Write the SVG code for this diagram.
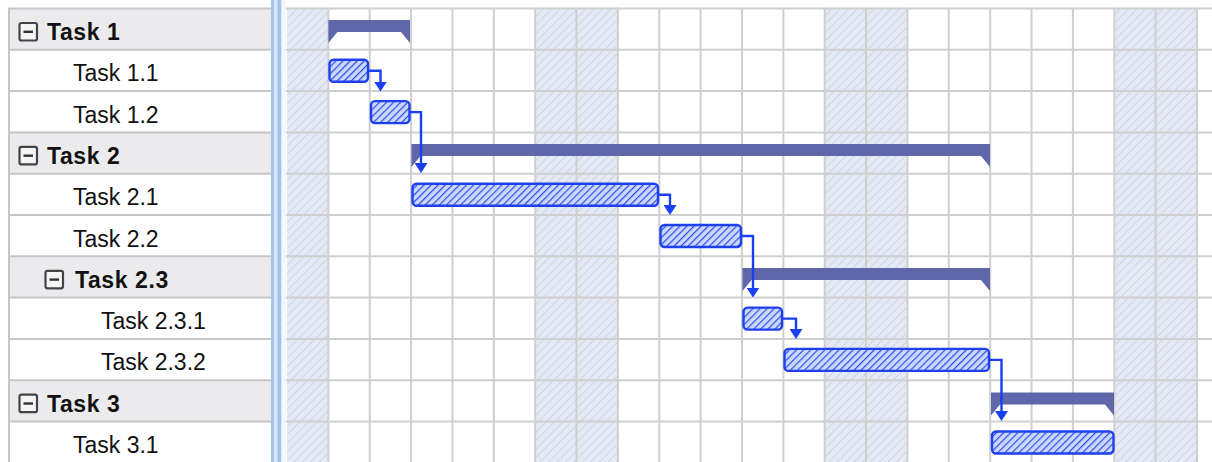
<svg xmlns="http://www.w3.org/2000/svg" width="1212" height="462" viewBox="0 0 1212 462">
  <defs>
    <!-- weekend shading: pale blue with thin diagonal hatch -->
    <pattern id="weekendHatch" patternUnits="userSpaceOnUse" width="6" height="6" patternTransform="rotate(45)">
      <rect width="6" height="6" fill="#e4e9f4"/>
      <line x1="0" y1="0" x2="0" y2="6" stroke="#c6d0e6" stroke-width="1.6"/>
    </pattern>
    <!-- task bar fill: blue diagonal hatch -->
    <pattern id="taskHatch" patternUnits="userSpaceOnUse" width="5" height="5" patternTransform="rotate(45)">
      <rect width="5" height="5" fill="#cdd8ff"/>
      <line x1="0" y1="0" x2="0" y2="5" stroke="#2f50ee" stroke-width="2.5"/>
    </pattern>
    <marker id="arrow" viewBox="0 0 10 10" refX="7" refY="5" markerUnits="userSpaceOnUse" markerWidth="10" markerHeight="13" orient="auto" preserveAspectRatio="none">
      <path d="M0,0 L10,5 L0,10 Z" fill="#1a3ff2"/>
    </marker>
    <style>
      .label { font-family: "Liberation Sans", Arial, sans-serif; font-size: 23px; fill: #111; }
      .summary { font-weight: bold; letter-spacing: 0.6px; }
      .rowline { stroke: #c6c6c6; stroke-width: 2; }
      .grid { stroke: #cfcfcf; stroke-width: 2; fill: none; }
      .sumrow { fill: #ebebee; }
      .toggle rect { fill: #f5f5f5; stroke: #444; stroke-width: 2.2; }
      .toggle line { stroke: #333; stroke-width: 2.4; }
      .sumbar { fill: #5f66a9; }
      .task { fill: url(#taskHatch); stroke: #1f40ee; stroke-width: 2.4; }
      .link { fill: none; stroke: #1a3ff2; stroke-width: 2.4; marker-end: url(#arrow); }
    </style>
  </defs>

  <rect width="1212" height="462" fill="#ffffff"/>

  <!-- ===== task list pane ===== -->
  <g id="task-list">
    <rect class="sumrow" x="9" y="8.5" width="262" height="41.3"/>
    <rect class="sumrow" x="9" y="132.4" width="262" height="41.3"/>
    <rect class="sumrow" x="9" y="256.3" width="262" height="41.3"/>
    <rect class="sumrow" x="9" y="380.2" width="262" height="41.3"/>
    <path class="rowline" d="M9,8.5 H271 M9,49.8 H271 M9,91.1 H271 M9,132.4 H271 M9,173.7 H271 M9,215 H271 M9,256.3 H271 M9,297.6 H271 M9,338.9 H271 M9,380.2 H271 M9,421.5 H271"/>
    <line class="rowline" x1="9" y1="7.5" x2="9" y2="462"/>
  </g>

  <g id="row-task1">
    <g class="toggle"><rect x="19.5" y="23" width="17.5" height="17.5" rx="2"/><line x1="23.5" y1="31.8" x2="33" y2="31.8"/></g>
    <text class="label summary" x="47" y="40">Task 1</text>
  </g>
  <g id="row-task1-1"><text class="label" x="73" y="81.3">Task 1.1</text></g>
  <g id="row-task1-2"><text class="label" x="73" y="122.6">Task 1.2</text></g>
  <g id="row-task2">
    <g class="toggle"><rect x="19.5" y="146.9" width="17.5" height="17.5" rx="2"/><line x1="23.5" y1="155.7" x2="33" y2="155.7"/></g>
    <text class="label summary" x="47" y="163.9">Task 2</text>
  </g>
  <g id="row-task2-1"><text class="label" x="73" y="205.2">Task 2.1</text></g>
  <g id="row-task2-2"><text class="label" x="73" y="246.5">Task 2.2</text></g>
  <g id="row-task2-3">
    <g class="toggle"><rect x="45.5" y="270.8" width="17.5" height="17.5" rx="2"/><line x1="49.5" y1="279.6" x2="59" y2="279.6"/></g>
    <text class="label summary" x="75" y="287.8">Task 2.3</text>
  </g>
  <g id="row-task2-3-1"><text class="label" x="101" y="329.1">Task 2.3.1</text></g>
  <g id="row-task2-3-2"><text class="label" x="101" y="370.4">Task 2.3.2</text></g>
  <g id="row-task3">
    <g class="toggle"><rect x="19.5" y="394.7" width="17.5" height="17.5" rx="2"/><line x1="23.5" y1="403.5" x2="33" y2="403.5"/></g>
    <text class="label summary" x="47" y="411.7">Task 3</text>
  </g>
  <g id="row-task3-1"><text class="label" x="73" y="453">Task 3.1</text></g>

  <!-- ===== splitter ===== -->
  <g id="splitter">
    <rect x="271" y="0" width="11" height="462" fill="#d9e6f8"/>
    <rect x="271" y="0" width="3" height="462" fill="#a7c3ec"/>
    <rect x="277.5" y="0" width="3.5" height="462" fill="#a7c3ec"/>
    <rect x="282" y="0" width="4" height="462" fill="#f4f7fc"/>
  </g>

  <!-- ===== timeline grid ===== -->
  <g id="timeline">
    <rect x="287" y="7.5" width="41.4" height="454.5" fill="url(#weekendHatch)"/>
    <rect x="535.2" y="7.5" width="82.7" height="454.5" fill="url(#weekendHatch)"/>
    <rect x="824.7" y="7.5" width="82.7" height="454.5" fill="url(#weekendHatch)"/>
    <rect x="1114.3" y="7.5" width="82.7" height="454.5" fill="url(#weekendHatch)"/>
    <path class="grid" d="M286,8.5 H1212 M286,49.8 H1212 M286,91.1 H1212 M286,132.4 H1212 M286,173.7 H1212 M286,215 H1212 M286,256.3 H1212 M286,297.6 H1212 M286,338.9 H1212 M286,380.2 H1212 M286,421.5 H1212"/>
    <path class="grid" d="M328.4,7.5 V462 M369.7,7.5 V462 M411.1,7.5 V462 M452.5,7.5 V462 M493.8,7.5 V462 M535.2,7.5 V462 M576.5,7.5 V462 M617.9,7.5 V462 M659.3,7.5 V462 M700.6,7.5 V462 M742,7.5 V462 M783.4,7.5 V462 M824.7,7.5 V462 M866.1,7.5 V462 M907.5,7.5 V462 M948.8,7.5 V462 M990.2,7.5 V462 M1031.5,7.5 V462 M1072.9,7.5 V462 M1114.3,7.5 V462 M1155.6,7.5 V462 M1197,7.5 V462"/>
  </g>

  <!-- ===== summary bars ===== -->
  <g id="bar-task1"><path class="sumbar" d="M328.4,20 H410 V43 L401,32 H337.4 L328.4,43 Z"/></g>
  <g id="bar-task2"><path class="sumbar" d="M411.5,144 H990 V167 L981,156 H420.5 L411.5,167 Z"/></g>
  <g id="bar-task2-3"><path class="sumbar" d="M742.5,268 H990 V291 L981,280 H751.5 L742.5,291 Z"/></g>
  <g id="bar-task3"><path class="sumbar" d="M991,392.5 H1114 V415.5 L1105,404.5 H1000 L991,415.5 Z"/></g>

  <!-- ===== task bars ===== -->
  <g id="bar-task1-1"><rect class="task" x="329.5" y="59.8" width="38.5" height="22" rx="4"/></g>
  <g id="bar-task1-2"><rect class="task" x="371" y="101.1" width="38.5" height="22" rx="4"/></g>
  <g id="bar-task2-1"><rect class="task" x="412.5" y="183.7" width="245.5" height="22" rx="4"/></g>
  <g id="bar-task2-2"><rect class="task" x="660.5" y="225" width="80.5" height="22" rx="4"/></g>
  <g id="bar-task2-3-1"><rect class="task" x="743.5" y="307.6" width="38.5" height="22" rx="4"/></g>
  <g id="bar-task2-3-2"><rect class="task" x="784.5" y="348.9" width="204.5" height="22" rx="4"/></g>
  <g id="bar-task3-1"><rect class="task" x="992" y="431.5" width="121.5" height="22" rx="4"/></g>

  <!-- ===== finish-to-start dependencies ===== -->
  <g id="connectors">
    <path class="link" d="M368,70.8 H380.5 V88.5"/>
    <path class="link" d="M409.5,112.1 H421 V170"/>
    <path class="link" d="M658,194.7 H670 V212"/>
    <path class="link" d="M741,236 H753 V294.5"/>
    <path class="link" d="M782,318.6 H796 V336"/>
    <path class="link" d="M989,359.9 H1001.5 V418"/>
  </g>
</svg>
